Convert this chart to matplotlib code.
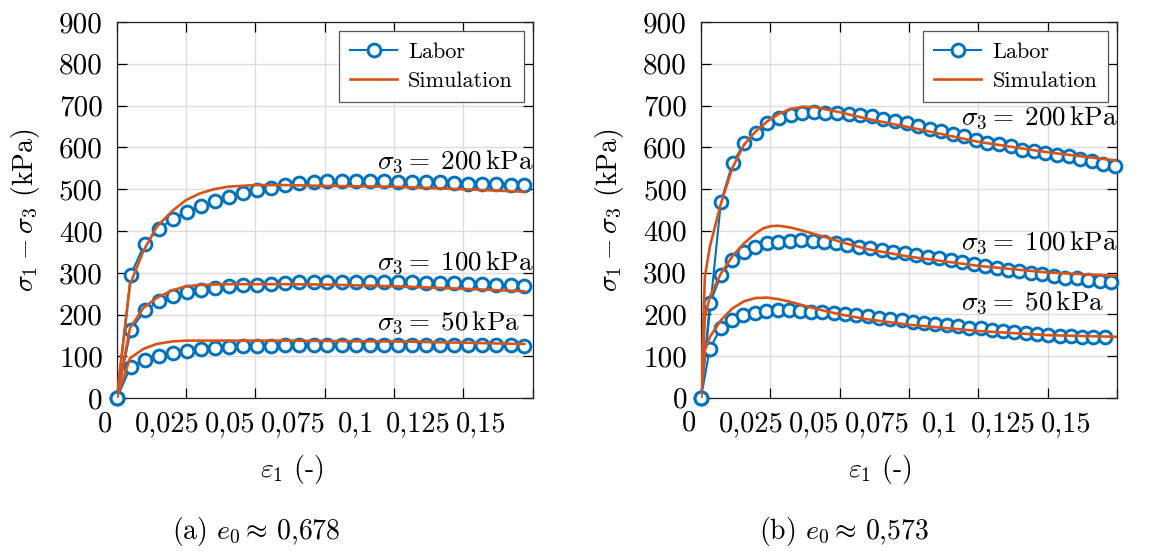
import numpy as np
import matplotlib
matplotlib.use("Agg")
import matplotlib.pyplot as plt

plt.rcParams.update({
    "font.family": "serif",
    "font.serif": ["cmr10"],
    "mathtext.fontset": "cm",
    "axes.unicode_minus": False,
    "axes.formatter.use_mathtext": True,
})

# ---------------- data: panel (a) e0 ~ 0.678 ----------------
a_eps_lab = [0, 0.0051, 0.0101, 0.0152, 0.0203, 0.0253, 0.0304, 0.0355, 0.0406, 0.0456,
             0.0507, 0.0558, 0.0608, 0.0659, 0.0710, 0.0760, 0.0811, 0.0862, 0.0913, 0.0963,
             0.1014, 0.1065, 0.1115, 0.1166, 0.1217, 0.1267, 0.1318, 0.1369, 0.1420, 0.1470]
a_lab_200 = [0, 296, 370, 404, 430, 446, 460, 472, 482, 490, 498, 504, 509, 514, 517,
             519, 520, 520, 519, 519, 518, 518, 518, 517, 515, 513, 512, 512, 510, 510]
a_lab_100 = [0, 164, 210, 232, 244, 254, 258, 264, 268, 270, 272, 274, 276, 277, 278,
             279, 279, 279, 278, 278, 277, 277, 276, 276, 275, 274, 273, 272, 271, 268]
a_lab_50 = [0, 76, 92, 100, 108, 112, 118, 120, 122, 124, 124, 126, 127, 128, 128,
            128, 128, 128, 128, 128, 128, 128, 128, 128, 128, 128, 128, 127, 127, 126]

a_eps_sim = [0, 0.0048, 0.0096, 0.0144, 0.020, 0.025, 0.030, 0.035, 0.040, 0.045,
             0.050, 0.060, 0.075, 0.100, 0.125, 0.147]
a_sim_200 = [0, 272, 352, 410, 448, 474, 490, 500, 506, 508, 510, 510, 508, 506, 500, 494]
a_sim_100 = [0, 168, 216, 240, 258, 268, 271, 272, 273, 273, 273, 273, 272, 268, 262, 256]
a_sim_50 = [0, 96, 118, 130, 136, 138, 138, 138, 138, 138, 138, 138, 137, 136, 133, 130]

# ---------------- data: panel (b) e0 ~ 0.573 ----------------
b_eps_lab_200 = [0, 0.0072, 0.0114, 0.0156, 0.0197, 0.0239, 0.0281, 0.0323, 0.0365, 0.0406,
                 0.0448, 0.0490, 0.0532, 0.0574, 0.0615, 0.0657, 0.0699, 0.0741, 0.0783, 0.0824,
                 0.0866, 0.0908, 0.0950, 0.0992, 0.1033, 0.1075, 0.1117, 0.1159, 0.1201, 0.1242,
                 0.1284, 0.1326, 0.1368, 0.1410, 0.1451, 0.1493]
b_lab_200 = [0, 470, 562, 610, 635, 658, 670, 678, 682, 684, 683, 682, 679, 678, 674,
             667, 663, 658, 650, 643, 638, 631, 626, 618, 611, 607, 602, 594, 590, 586,
             582, 578, 572, 567, 560, 555]
b_eps_lab_100 = [0, 0.0032, 0.0072, 0.0113, 0.0155, 0.0196, 0.0238, 0.0279, 0.0320, 0.0362,
                 0.0403, 0.0445, 0.0486, 0.0527, 0.0569, 0.0610, 0.0652, 0.0693, 0.0734, 0.0776,
                 0.0817, 0.0859, 0.0900, 0.0941, 0.0983, 0.1024, 0.1066, 0.1107, 0.1148, 0.1190,
                 0.1231, 0.1273, 0.1314, 0.1355, 0.1397, 0.1438, 0.1480]
b_lab_100 = [0, 226, 294, 330, 348, 362, 370, 374, 376, 378, 376, 374, 370, 366, 362,
             358, 354, 350, 346, 342, 338, 334, 330, 326, 320, 316, 312, 307, 304, 299,
             296, 291, 288, 286, 282, 280, 278]
b_eps_lab_50 = [0, 0.0032, 0.0072, 0.0113, 0.0153, 0.0194, 0.0235, 0.0276, 0.0316, 0.0357,
                0.0398, 0.0438, 0.0479, 0.0520, 0.0560, 0.0601, 0.0642, 0.0683, 0.0723, 0.0764,
                0.0805, 0.0845, 0.0886, 0.0927, 0.0968, 0.1008, 0.1049, 0.1090, 0.1130, 0.1171,
                0.1212, 0.1252, 0.1293, 0.1334, 0.1375, 0.1415, 0.1456]
b_lab_50 = [0, 118, 168, 187, 198, 203, 207, 210, 210, 208, 206, 205, 203, 200, 198,
            195, 191, 188, 186, 182, 179, 176, 174, 171, 168, 166, 163, 160, 158, 155,
            153, 151, 149, 147, 146, 145, 145]

b_eps_sim_200 = [0, 0.0014, 0.0032, 0.0072, 0.0113, 0.0155, 0.0197, 0.0239, 0.0281, 0.0325,
                 0.0370, 0.0413, 0.0455, 0.050, 0.060, 0.075, 0.100, 0.125, 0.150]
b_sim_200 = [0, 290, 362, 466, 550, 606, 638, 662, 680, 692, 697, 696, 690, 684, 668, 648,
             613, 588, 568]
b_eps_sim_100 = [0, 0.0014, 0.0032, 0.0072, 0.0113, 0.0155, 0.0197, 0.0225, 0.025, 0.028,
                 0.0321, 0.0363, 0.0405, 0.0447, 0.050, 0.060, 0.075, 0.100, 0.125, 0.150]
b_sim_100 = [0, 194, 242, 298, 339, 370, 394, 406, 411, 412, 408, 401, 393, 385, 374, 356,
             338, 316, 300, 292]
b_eps_sim_50 = [0, 0.0014, 0.0032, 0.0072, 0.0113, 0.0155, 0.0197, 0.0239, 0.0281, 0.0321,
                0.0363, 0.0405, 0.0447, 0.050, 0.060, 0.075, 0.100, 0.125, 0.150]
b_sim_50 = [0, 114, 146, 186, 214, 231, 239, 240, 236, 230, 222, 215, 208, 200, 188, 175,
            160, 150, 146]

x_ticks = [0, 0.025, 0.05, 0.075, 0.1, 0.125, 0.15]
x_ticklabels = ["0", "0,025", "0,05", "0,075", "0,1", "0,125", "0,15"]
y_ticks = [0, 100, 200, 300, 400, 500, 600, 700, 800, 900]
sigma3 = ["200", "100", "50"]

BLUE = "#0072BD"
ORANGE = "#D95319"
W, H = 1150, 551

fig = plt.figure(figsize=(W / 100, H / 100), dpi=100)


def px_axes(x0, top, w, h):
    return fig.add_axes([x0 / W, 1 - (top + h) / H, w / W, h / H])


def panel(ax, lab, sim, ann_y, caption, xlab_px, cap_px, ylab_px):
    ax.set_xlim(0, 0.15)
    ax.set_ylim(0, 900)
    ax.set_xticks(x_ticks)
    ax.set_xticklabels([""] * len(x_ticks))
    ax.set_yticks(y_ticks)
    ax.set_yticklabels([str(v) for v in y_ticks], fontsize=21)
    ax.tick_params(direction="in", length=7, width=0.9, top=True, right=True,
                   pad=10, colors="black")
    ax.grid(True, color="#dcdcdc", lw=1.0)
    ax.set_axisbelow(True)
    for s in ax.spines.values():
        s.set_linewidth(0.9)
        s.set_color("#222222")
    # tick labels (as drawn in the reference: slightly compressed placement)
    for t, lbl in zip(x_ticks, x_ticklabels):
        ax.text(-0.00433 + 0.906 * t, -0.088, lbl, transform=ax.get_xaxis_transform(),
                ha="center", va="baseline", fontsize=20.5)
    first = True
    for (ex, ey), (sx, sy) in zip(lab, sim):
        ax.plot(ex, ey, "-o", color=BLUE, lw=1.5, ms=9.2, mew=2.1, mfc="white",
                mec=BLUE, zorder=3, clip_on=False, label="Labor" if first else None)
        ax.plot(sx, sy, "-", color=ORANGE, lw=1.9, zorder=4,
                label="Simulation" if first else None)
        first = False
    for s3, yv in zip(sigma3, ann_y):
        ax.text(0.0939, yv, r"$\sigma_3 =\;%s\,\mathrm{kPa}$" % s3, fontsize=19.5,
                ha="left", va="center", zorder=5)
    leg = ax.legend(loc="upper right", fontsize=16, fancybox=False, framealpha=1,
                    edgecolor="#555555", borderaxespad=0.4, handlelength=2.1,
                    handletextpad=0.5, borderpad=0.5, labelspacing=0.45)
    leg.get_frame().set_linewidth(0.9)
    fig.text(xlab_px / W, 1 - 470 / H, r"$\varepsilon_1$ (-)", ha="center", va="center",
             fontsize=20)
    fig.text(cap_px / W, 1 - 532 / H, caption, ha="center", va="center", fontsize=20)
    fig.text(ylab_px / W, 1 - 210 / H, r"$\sigma_1 - \sigma_3$ (kPa)", ha="center",
             va="center", rotation=90, fontsize=20)


axL = px_axes(116.7, 22, 416, 376.3)
panel(axL,
      [(a_eps_lab, a_lab_200), (a_eps_lab, a_lab_100), (a_eps_lab, a_lab_50)],
      [(a_eps_sim, a_sim_200), (a_eps_sim, a_sim_100), (a_eps_sim, a_sim_50)],
      [567, 325, 181], r"(a) $e_0 \approx\,$0,678", 292, 256, 25)

axR = px_axes(701, 22, 416, 375.8)
panel(axR,
      [(b_eps_lab_200, b_lab_200), (b_eps_lab_100, b_lab_100), (b_eps_lab_50, b_lab_50)],
      [(b_eps_sim_200, b_sim_200), (b_eps_sim_100, b_sim_100), (b_eps_sim_50, b_sim_50)],
      [671, 371, 227], r"(b) $e_0 \approx\,$0,573", 880, 844, 610)

fig.savefig("out.png", dpi=100)
